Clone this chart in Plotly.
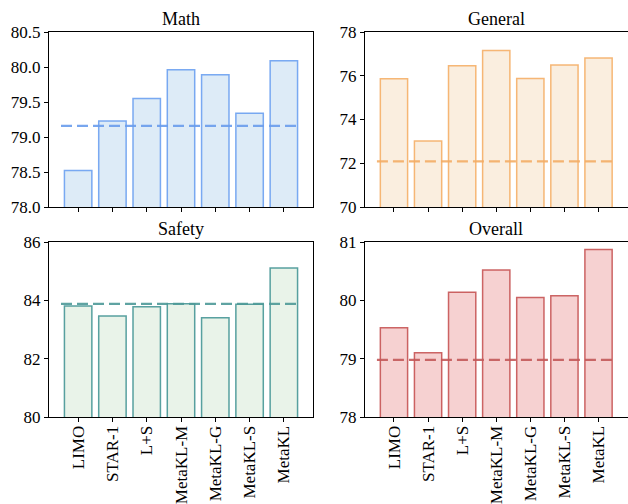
import plotly.graph_objects as go

methods = ["LIMO", "STAR-1", "L+S", "MetaKL-M", "MetaKL-G", "MetaKL-S", "MetaKL"]
math_vals = [78.52, 79.23, 79.55, 79.96, 79.89, 79.34, 80.09]
general_vals = [75.86, 73.02, 76.46, 77.15, 75.88, 76.49, 76.81]
safety_vals = [83.81, 83.46, 83.78, 83.88, 83.40, 83.87, 85.11]
overall_vals = [79.53, 79.10, 80.14, 80.52, 80.05, 80.08, 80.87]
baselines = {"Math": 79.16, "General": 72.09, "Safety": 83.88, "Overall": 78.98}
yranges = {"Math": [78.0, 80.5], "General": [70, 78], "Safety": [80, 86], "Overall": [78, 81]}
ytickvals = {
    "Math": [78.0, 78.5, 79.0, 79.5, 80.0, 80.5],
    "General": [70, 72, 74, 76, 78],
    "Safety": [80, 82, 84, 86],
    "Overall": [78, 79, 80, 81],
}

W, H = 628, 504
panels = [
    ("Math", math_vals, "#ddebf7", "rgba(100,155,240,0.85)", "#6a9ded", (49, 313, 32, 207), False),
    ("General", general_vals, "#faeedf", "rgba(245,170,95,0.85)", "#f4ad66", (365, 627.5, 32, 207), False),
    ("Safety", safety_vals, "#e9f3e9", "rgba(60,145,145,0.85)", "#4e9a98", (49, 313, 242, 417), True),
    ("Overall", overall_vals, "#f6d1d1", "rgba(195,75,75,0.85)", "#c45a5a", (365, 627.5, 242, 417), True),
]

FONT = "Liberation Serif"
fig = go.Figure()
xpos = list(range(len(methods)))
layout = {}
annotations = []
for i, (name, vals, fill, edge, dash_col, (x0, x1, y0, y1), show_x) in enumerate(panels):
    n = "" if i == 0 else str(i + 1)
    xa, ya = "x" + n, "y" + n
    fig.add_trace(go.Bar(
        x=xpos, y=vals, width=0.8, xaxis=xa, yaxis=ya,
        marker=dict(color=fill, line=dict(color=edge, width=1.5)),
        showlegend=False, hoverinfo="skip",
    ))
    fig.add_trace(go.Scatter(
        x=[xpos[0] - 0.5, xpos[-1] + 0.5], y=[baselines[name]] * 2,
        xaxis=xa, yaxis=ya, mode="lines",
        line=dict(color=dash_col, width=2.2, dash="11px,5px"),
        opacity=0.9, showlegend=False, hoverinfo="skip",
    ))
    layout["xaxis" + n] = dict(
        domain=[x0 / W, x1 / W], anchor=ya, range=[-0.85, 6.85],
        tickvals=xpos, ticktext=methods if show_x else [""] * len(methods),
        tickangle=-90, ticks="outside", ticklen=4, tickcolor="black",
        ticklabelstandoff=-3,
        showline=True, linecolor="black", linewidth=1, mirror=True,
        showgrid=False, zeroline=False, automargin=False,
        tickfont=dict(family=FONT, size=17, color="black"),
    )
    layout["yaxis" + n] = dict(
        domain=[1 - y1 / H, 1 - y0 / H], anchor=xa, range=yranges[name],
        tickvals=ytickvals[name],
        ticktext=[f"{v:.1f}" if name == "Math" else f"{v:d}" for v in ytickvals[name]],
        ticks="outside", ticklen=4, tickcolor="black",
        showline=True, linecolor="black", linewidth=1, mirror=True,
        showgrid=False, zeroline=False, automargin=False,
        tickfont=dict(family=FONT, size=17, color="black"),
    )
    annotations.append(dict(
        text=name, x=(x0 + x1) / 2 / W, y=1 - y0 / H, xref="paper", yref="paper",
        xanchor="center", yanchor="bottom", yshift=1, showarrow=False,
        font=dict(family=FONT, size=18, color="black"),
    ))

fig.update_layout(
    width=W, height=H, margin=dict(l=0, r=0, t=0, b=0, autoexpand=False),
    paper_bgcolor="white", plot_bgcolor="white",
    font=dict(family=FONT, size=17, color="black"),
    annotations=annotations, barmode="overlay", **layout,
)
fig.write_html(
    "out.html",
    config={"displayModeBar": False},
    post_script="document.body.style.margin='0';document.body.style.overflow='hidden';",
)
